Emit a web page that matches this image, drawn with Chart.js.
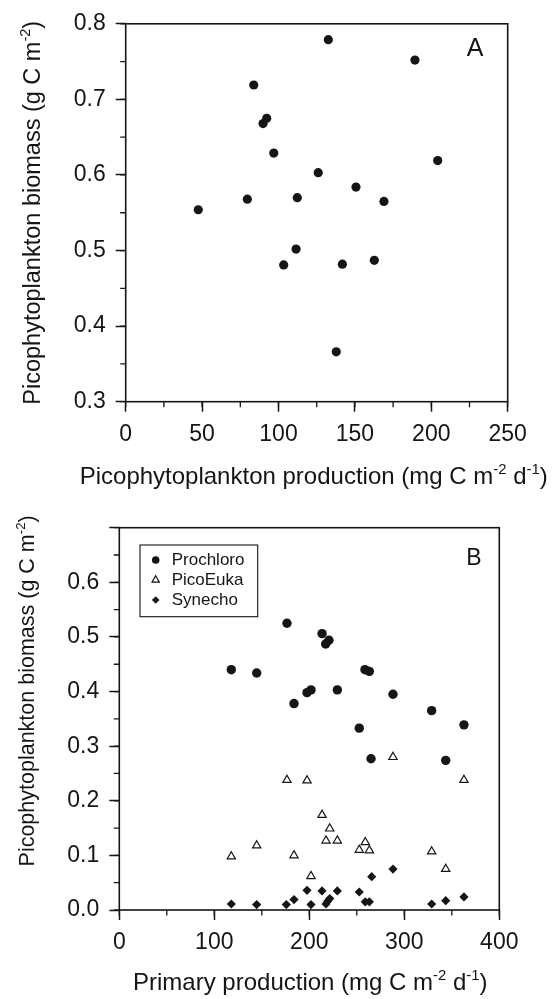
<!DOCTYPE html>
<html><head><meta charset="utf-8">
<script src="https://cdn.jsdelivr.net/npm/chart.js@4.4.1/dist/chart.umd.min.js"></script>
<style>
html,body{margin:0;padding:0;background:#fff;width:552px;height:999px;overflow:hidden}
.wrap{position:absolute;left:0;width:552px}
#wa{top:0;height:500px}
#wb{top:500px;height:499px}
canvas{display:block}
</style></head><body>
<div class="wrap" id="wa"><canvas id="ca" width="552" height="500"></canvas></div>
<div class="wrap" id="wb"><canvas id="cb" width="552" height="499"></canvas></div>
<script>
// ---------- Panel A data ----------
const prodA    = [132.6, 189.3, 83.8, 92.3, 89.9, 96.9, 204.2, 126.0, 150.7, 47.5, 79.6, 112.3, 169.0, 111.5, 103.4, 141.8, 162.7, 137.8];
const biomassA = [0.779, 0.752, 0.719, 0.675, 0.668, 0.629, 0.619, 0.603, 0.584, 0.554, 0.568, 0.570, 0.565, 0.502, 0.481, 0.482, 0.487, 0.366];

// ---------- Panel B data ----------
const seriesNamesB = ['Prochloro', 'PicoEuka', 'Synecho'];
const prochloroX = [176.5, 213.4, 220.7, 217.2, 117.9, 144.6, 258.6, 263.2, 197.6, 201.8, 229.5, 183.9, 288.1, 328.8, 252.6, 362.8, 265.0, 343.6];
const prochloroY = [0.525, 0.506, 0.494, 0.487, 0.440, 0.434, 0.440, 0.437, 0.398, 0.403, 0.403, 0.378, 0.395, 0.365, 0.333, 0.339, 0.277, 0.274];
const picoEukaX  = [176.5, 197.6, 288.1, 362.8, 213.4, 117.9, 144.6, 183.9, 201.8, 221.5, 217.6, 229.5, 252.6, 258.9, 263.2, 328.8, 343.6];
const picoEukaY  = [0.238, 0.237, 0.280, 0.238, 0.174, 0.098, 0.118, 0.100, 0.062, 0.149, 0.127, 0.127, 0.110, 0.124, 0.109, 0.107, 0.075];
const synechoX   = [117.9, 144.6, 175.8, 183.9, 197.6, 201.8, 213.4, 217.6, 219.3, 221.5, 229.5, 252.6, 258.9, 263.2, 265.7, 288.1, 328.8, 343.6, 362.8];
const synechoY   = [0.011, 0.010, 0.010, 0.019, 0.036, 0.010, 0.035, 0.011, 0.016, 0.021, 0.035, 0.033, 0.015, 0.015, 0.061, 0.075, 0.011, 0.017, 0.024];

// ---------- Text ----------
const xTitleA = [{t:'Picophytoplankton production (mg C m'},{t:'-2',sup:1},{t:' d'},{t:'-1',sup:1},{t:')'}];
const yTitleA = [{t:'Picophytoplankton biomass (g C m'},{t:'-2',sup:1},{t:')'}];
const xTitleB = [{t:'Primary production (mg C m'},{t:'-2',sup:1},{t:' d'},{t:'-1',sup:1},{t:')'}];
const yTitleB = [{t:'Picophytoplankton biomass (g C m'},{t:'-2',sup:1},{t:')'}];
const panelLabels = ['A', 'B'];

const INK = '#151515';
const FAM = "'Liberation Sans', Arial, Helvetica, sans-serif";
const f = (s) => s + 'px ' + FAM;

function richWidth(ctx, segs, size) {
  let w = 0;
  for (const s of segs) { ctx.font = f(s.sup ? size * 0.62 : size); w += ctx.measureText(s.t).width; }
  return w;
}
function drawRich(ctx, segs, size, ax, ay, rotate) {
  ctx.save();
  ctx.translate(ax, ay);
  if (rotate) ctx.rotate(-Math.PI / 2);
  const w = richWidth(ctx, segs, size);
  let x = -w / 2;
  ctx.fillStyle = INK;
  ctx.textBaseline = 'alphabetic';
  ctx.textAlign = 'left';
  for (const s of segs) {
    const sz = s.sup ? size * 0.62 : size;
    ctx.font = f(sz);
    ctx.fillText(s.t, x, s.sup ? -size * 0.40 : 0);
    x += ctx.measureText(s.t).width;
  }
  ctx.restore();
}
function marker(ctx, style, x, y, r) {
  ctx.save();
  ctx.beginPath();
  if (style === 'circle') { ctx.arc(x, y, r, 0, Math.PI * 2); ctx.fillStyle = INK; ctx.fill(); }
  else if (style === 'triangle') {
    ctx.moveTo(x, y - r); ctx.lineTo(x + r * 0.866, y + r * 0.5); ctx.lineTo(x - r * 0.866, y + r * 0.5); ctx.closePath();
    ctx.fillStyle = '#fff'; ctx.fill(); ctx.lineWidth = 1.2; ctx.strokeStyle = INK; ctx.stroke();
  } else {
    ctx.moveTo(x, y - r); ctx.lineTo(x + r, y); ctx.lineTo(x, y + r); ctx.lineTo(x - r, y); ctx.closePath();
    ctx.fillStyle = INK; ctx.fill();
  }
  ctx.restore();
}

const decor = {
  id: 'decor',
  afterDraw(chart, args, o) {
    const ctx = chart.ctx, a = chart.chartArea, sx = chart.scales.x, sy = chart.scales.y;
    ctx.save();
    ctx.strokeStyle = INK; ctx.lineWidth = 1.6;
    ctx.strokeRect(a.left, a.top, a.right - a.left, a.bottom - a.top);
    ctx.lineWidth = 1.3;
    ctx.beginPath();
    for (let v = sx.min; v <= sx.max + 1e-9; v += o.minorX) {
      const px = sx.getPixelForValue(v);
      ctx.moveTo(px, a.bottom); ctx.lineTo(px, a.bottom + 5.5);
    }
    for (let v = sy.min; v <= sy.max + 1e-9; v += o.minorY) {
      const py = sy.getPixelForValue(v);
      ctx.moveTo(a.left - 5.5, py); ctx.lineTo(a.left, py);
    }
    ctx.stroke();
    drawRich(ctx, o.xTitle, o.xSize, (a.left + a.right) / 2 + o.xShift, o.xBase, false);
    drawRich(ctx, o.yTitle, o.ySize, o.yBase, (a.top + a.bottom) / 2 + o.yShift, true);
    ctx.fillStyle = INK; ctx.font = f(o.letterSize); ctx.textAlign = 'center'; ctx.textBaseline = 'alphabetic';
    ctx.fillText(o.letter, a.right - o.letterDX, a.top + o.letterDY);
    if (o.legend) {
      const L = o.legend;
      const x0 = a.left + L.dx, y0 = a.top + L.dy;
      ctx.lineWidth = 1.1; ctx.strokeStyle = INK;
      ctx.strokeRect(x0, y0, L.w, L.h);
      ctx.font = f(L.size); ctx.textAlign = 'left'; ctx.textBaseline = 'middle'; ctx.fillStyle = INK;
      chart.data.datasets.forEach((ds, i) => {
        const yy = y0 + L.first + i * L.step;
        marker(ctx, ds.pointStyle, x0 + L.mx, yy, ds.pointStyle === 'triangle' ? 4.2 : 3.8);
        ctx.fillStyle = INK;
        ctx.fillText(ds.label, x0 + L.tx, yy);
      });
    }
    ctx.restore();
  }
};

const tickFont = { family: FAM, size: 23 };
function axisX(min, max, step, h) {
  return { type: 'linear', min, max,
    ticks: { stepSize: step, font: tickFont, color: INK, padding: 9, maxRotation: 0, autoSkip: false },
    grid: { drawOnChartArea: false, tickLength: 10, tickWidth: 1.5, tickColor: INK },
    border: { display: false },
    afterFit(s) { s.height = h; } };
}
function axisY(min, max, step, w, hideTop) {
  return { type: 'linear', min, max,
    ticks: { stepSize: step, font: tickFont, color: INK, padding: 10,
      callback: (v) => (hideTop && Math.abs(v - max) < 1e-9) ? '' : Number(v).toFixed(1) },
    grid: { drawOnChartArea: false, tickLength: 10, tickWidth: 1.5, tickColor: INK },
    border: { display: false },
    afterFit(s) { s.width = w; } };
}

new Chart(document.getElementById('ca'), {
  type: 'scatter',
  data: { datasets: [{
    label: 'Picophytoplankton',
    data: prodA.map((x, i) => ({ x, y: biomassA[i] })),
    pointStyle: 'circle', pointRadius: 4.6, backgroundColor: INK, borderWidth: 0
  }] },
  options: {
    responsive: false, animation: false, events: [],
    layout: { padding: { top: 21, right: 44.3, left: 0, bottom: 0 } },
    scales: { x: axisX(0, 250, 50, 98.3), y: axisY(0.3, 0.8, 0.1, 125.7, false) },
    plugins: { legend: { display: false }, tooltip: { enabled: false },
      decor: { minorX: 25, minorY: 0.05, xTitle: xTitleA, xSize: 24, xShift: -3, xBase: 484,
        yTitle: yTitleA, ySize: 23.5, yBase: 39.5, yShift: 0,
        letter: panelLabels[0], letterSize: 25, letterDX: 32.5, letterDY: 31.7 } }
  },
  plugins: [decor]
});

new Chart(document.getElementById('cb'), {
  type: 'scatter',
  data: { datasets: [
    { label: seriesNamesB[0], data: prochloroX.map((x, i) => ({ x, y: prochloroY[i] })),
      pointStyle: 'circle', pointRadius: 4.7, backgroundColor: INK, borderWidth: 0 },
    { label: seriesNamesB[1], data: picoEukaX.map((x, i) => ({ x, y: picoEukaY[i] })),
      pointStyle: 'triangle', pointRadius: 4.8, backgroundColor: '#fff', borderColor: INK, borderWidth: 1.2 },
    { label: seriesNamesB[2], data: synechoX.map((x, i) => ({ x, y: synechoY[i] })),
      pointStyle: 'rectRot', pointRadius: 4.6, backgroundColor: INK, borderWidth: 0 }
  ] },
  options: {
    responsive: false, animation: false, events: [],
    layout: { padding: { top: 27.7, right: 52.7, left: 0, bottom: 0 } },
    scales: { x: axisX(0, 400, 100, 89), y: axisY(0, 0.7, 0.1, 119.3, true) },
    plugins: { legend: { display: false }, tooltip: { enabled: false },
      decor: { minorX: 50, minorY: 0.05, xTitle: xTitleB, xSize: 24, xShift: 1, xBase: 490,
        yTitle: yTitleB, ySize: 21.5, yBase: 33.5, yShift: -28,
        letter: panelLabels[1], letterSize: 23, letterDX: 25.5, letterDY: 37.3,
        legend: { dx: 20.7, dy: 17.3, w: 117.7, h: 71.7, first: 15, step: 20, mx: 15.7, tx: 31.7, size: 17 } } }
  },
  plugins: [decor]
});
</script>
</body></html>
